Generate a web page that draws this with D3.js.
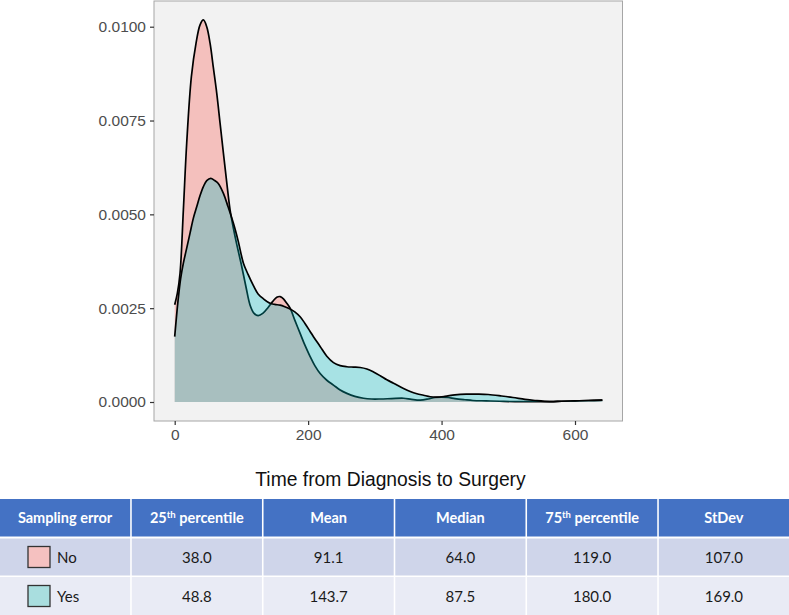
<!DOCTYPE html>
<html>
<head>
<meta charset="utf-8">
<script src="https://cdn.jsdelivr.net/npm/d3@7/dist/d3.min.js"></script>
<style>
  html, body { margin: 0; padding: 0; background: #ffffff; }
  svg { display: block; }
</style>
</head>
<body>
<svg id="chart" width="789" height="615"></svg>
<script>
// ---- Data ----
const groups = ["No", "Yes"];
const groupColors = ["#F8766D", "#00BFC4"];
const groupOpacity = [0.4, 0.31];
const legendFills = ["#F5C1C0", "#A9DEDF"];

const noX = [0, 4, 8, 13, 18, 25, 32, 38, 43, 48, 53, 58, 63, 68, 73, 78, 83, 88, 93, 100, 107, 113, 119, 125, 132, 140, 147, 153, 158, 163, 168, 173, 180, 188, 195, 203, 210, 218, 228, 238, 248, 258, 270, 283, 295, 308, 325, 343, 355, 368, 380, 390, 400, 410, 420, 435, 447, 467, 487, 510, 530, 562, 580, 600, 620, 641];
const noY = [0.00259, 0.0029, 0.00343, 0.00512, 0.0069, 0.00867, 0.00956, 0.01005, 0.01018, 0.01, 0.00956, 0.0089, 0.00823, 0.00743, 0.00663, 0.00585, 0.00512, 0.00463, 0.0042, 0.00365, 0.00305, 0.00258, 0.00236, 0.0023, 0.00236, 0.00252, 0.00268, 0.00279, 0.00281, 0.00275, 0.00263, 0.0025, 0.00218, 0.00183, 0.00152, 0.00121, 0.00097, 0.00076, 0.00058, 0.00045, 0.00032, 0.00023, 0.00015, 0.0001, 0.00008, 0.00008, 0.00009, 0.0001, 0.00007, 0.00005, 0.00008, 0.00012, 0.00013, 0.00012, 0.00009, 0.00006, 0.00004, 0.00003, 0.00002, 0.00001, 0.00001, 0.00001, 0.00002, 0.00003, 0.00004, 0.00005];

const yesX = [0, 5, 9, 13, 18, 23, 28, 33, 38, 43, 48, 54, 60, 65, 73, 80, 88, 95, 103, 110, 118, 125, 133, 143, 150, 158, 165, 173, 180, 188, 195, 203, 208, 218, 228, 238, 248, 258, 268, 278, 288, 298, 308, 318, 328, 343, 353, 363, 373, 383, 393, 405, 420, 437, 455, 470, 490, 507, 525, 540, 562, 580, 600, 620, 641];
const yesY = [0.00174, 0.0027, 0.0033, 0.0037, 0.0041, 0.0045, 0.0049, 0.0052, 0.0055, 0.00574, 0.0059, 0.00596, 0.0059, 0.00583, 0.00556, 0.0052, 0.00476, 0.0043, 0.0037, 0.0034, 0.0031, 0.00288, 0.00275, 0.00263, 0.0026, 0.00258, 0.00254, 0.00248, 0.0024, 0.00227, 0.0021, 0.00188, 0.00174, 0.00148, 0.00122, 0.00105, 0.00097, 0.00094, 0.00093, 0.00092, 0.00088, 0.0008, 0.0007, 0.00059, 0.0005, 0.00036, 0.00028, 0.00022, 0.00018, 0.00014, 0.00013, 0.00015, 0.00019, 0.00021, 0.00021, 0.0002, 0.00016, 0.00012, 0.00007, 0.00004, 0.00001, 0.00002, 0.00003, 0.00004, 0.00005];

const xTicks = [0, 200, 400, 600];
const yTicks = [0, 0.0025, 0.005, 0.0075, 0.01];
const xTitle = "Time from Diagnosis to Surgery";

const tableHeaders = ["Sampling error", "25th percentile", "Mean", "Median", "75th percentile", "StDev"];
const p25 = [38.0, 48.8];
const meanVals = [91.1, 143.7];
const medianVals = [64.0, 87.5];
const p75 = [119.0, 180.0];
const sdVals = [107.0, 169.0];

// ---- Layout ----
const svg = d3.select("#chart");
const panel = { left: 154, top: 1, right: 622.5, bottom: 421 };

const x = d3.scaleLinear().domain([0, 600]).range([174.7, 575]);
const y = d3.scaleLinear().domain([0, 0.01]).range([402, 26.7]);

// panel
svg.append("rect")
  .attr("x", panel.left).attr("y", panel.top)
  .attr("width", panel.right - panel.left).attr("height", panel.bottom - panel.top)
  .attr("fill", "#F2F2F2").attr("stroke", "#A6A6A6").attr("stroke-width", 1);

const series = [
  noX.map((v, i) => ({ x: v, y: noY[i] })),
  yesX.map((v, i) => ({ x: v, y: yesY[i] }))
];

const area = d3.area().x(d => x(d.x)).y0(y(0)).y1(d => y(d.y)).curve(d3.curveCatmullRom.alpha(0.5));
const line = d3.line().x(d => x(d.x)).y(d => y(d.y)).curve(d3.curveCatmullRom.alpha(0.5));

series.forEach((s, i) => {
  svg.append("path").datum(s)
    .attr("d", area)
    .attr("fill", groupColors[i]).attr("fill-opacity", groupOpacity[i]);
  svg.append("path").datum(s)
    .attr("d", line)
    .attr("fill", "none").attr("stroke", "#000").attr("stroke-width", 1.7);
});

// axes
const fmtY = d3.format(".4f");
const yAxis = svg.append("g").attr("transform", `translate(${panel.left},0)`)
  .call(d3.axisLeft(y).tickValues(yTicks).tickFormat(fmtY).tickSize(4).tickPadding(4));
const xAxis = svg.append("g").attr("transform", `translate(0,${panel.bottom})`)
  .call(d3.axisBottom(x).tickValues(xTicks).tickSize(4).tickPadding(4));
[yAxis, xAxis].forEach(g => {
  g.select(".domain").remove();
  g.selectAll(".tick line").attr("stroke", "#333").attr("stroke-width", 1.2);
  g.selectAll(".tick text").attr("fill", "#4D4D4D")
    .style("font-family", "'Liberation Sans', Arial, sans-serif").style("font-size", "15.5px");
});

svg.append("text")
  .attr("x", 390.5).attr("y", 485.5).attr("text-anchor", "middle")
  .style("font-family", "'Liberation Sans', Arial, sans-serif").style("font-size", "19.3px")
  .attr("fill", "#111").text(xTitle);

// ---- Table ----
const colX = d3.scaleBand().domain(d3.range(tableHeaders.length)).range([0, 789]).paddingInner(0.012).paddingOuter(0);
const rowsTop = [499, 538.5, 577];
const rowsH = [37.5, 37, 38];
const rowFills = ["#4472C4", "#CFD5EA", "#E9EBF5"];
const tableFont = "Lato, 'Open Sans', sans-serif";

rowsTop.forEach((t, r) => {
  tableHeaders.forEach((h, c) => {
    svg.append("rect")
      .attr("x", colX(c)).attr("y", t).attr("width", colX.bandwidth()).attr("height", rowsH[r])
      .attr("fill", rowFills[r]);
  });
});

// header text
tableHeaders.forEach((h, c) => {
  const tx = svg.append("text")
    .attr("x", colX(c) + colX.bandwidth() / 2).attr("y", rowsTop[0] + rowsH[0] / 2 + 5)
    .attr("text-anchor", "middle").attr("fill", "#fff")
    .style("font-family", tableFont).style("font-size", "14.5px").style("font-weight", "bold");
  const m = h.match(/^(\d+)(th)(.*)$/);
  if (m) {
    tx.append("tspan").text(m[1]);
    tx.append("tspan").attr("dy", -5).style("font-size", "9.5px").text(m[2]);
    tx.append("tspan").attr("dy", 5).text(m[3]);
  } else {
    tx.text(h);
  }
});

// body rows
const cols = [p25, meanVals, medianVals, p75, sdVals];
groups.forEach((g, r) => {
  const t = rowsTop[r + 1], h = rowsH[r + 1];
  svg.append("rect")
    .attr("x", 28).attr("y", t + h / 2 - 10.5).attr("width", 22).attr("height", 21)
    .attr("fill", legendFills[r]).attr("stroke", "#333").attr("stroke-width", 1.3);
  svg.append("text")
    .attr("x", 57).attr("y", t + h / 2 + 5.5)
    .attr("fill", "#1a1a1a").style("font-family", tableFont).style("font-size", "15px").text(g);
  cols.forEach((arr, c) => {
    svg.append("text")
      .attr("x", colX(c + 1) + colX.bandwidth() / 2).attr("y", t + h / 2 + 5.5)
      .attr("text-anchor", "middle").attr("fill", "#1a1a1a")
      .style("font-family", tableFont).style("font-size", "15px")
      .text(d3.format(".1f")(arr[r]));
  });
});
</script>
</body>
</html>
